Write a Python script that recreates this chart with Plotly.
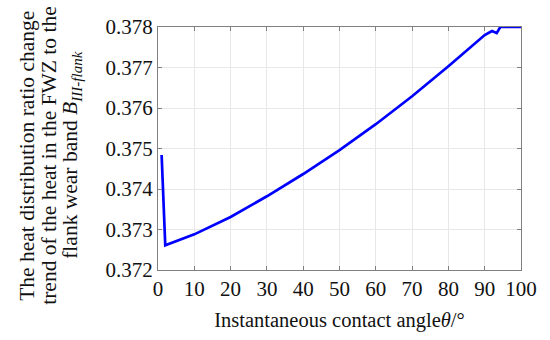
import plotly.graph_objects as go

theta = [1, 2, 10, 20, 30, 40, 50, 60, 70, 80, 90, 92, 93.3, 94.3, 95, 100]
ratio = [0.37484, 0.37261, 0.37288, 0.37331, 0.37382, 0.37437, 0.37496, 0.37560,
         0.37629, 0.37703, 0.37780, 0.37790, 0.37785, 0.37800, 0.37800, 0.37800]

x_ticks = [0, 10, 20, 30, 40, 50, 60, 70, 80, 90, 100]
y_ticks = [0.372, 0.373, 0.374, 0.375, 0.376, 0.377, 0.378]

y_title_lines = ["The heat distribution ratio change",
                 "trend of the heat in the FWZ to the",
                 "flank wear band <i>B</i><sub><i>III-flank</i></sub>"]

font = "Liberation Serif, Times New Roman, serif"

fig = go.Figure()
fig.add_trace(go.Scatter(x=theta, y=ratio, mode="lines",
                         line=dict(color="#0000ff", width=2.7), showlegend=False))

axis_common = dict(showline=True, mirror="ticks", linecolor="#808080", linewidth=1,
                   ticks="inside", ticklen=4, tickcolor="#808080",
                   showgrid=True, gridcolor="#e8e8e8", gridwidth=1, zeroline=False,
                   tickfont=dict(family=font, size=21, color="#111"))

fig.update_xaxes(range=[0, 100], tickvals=x_ticks, **axis_common,
                 title=dict(text="Instantaneous contact angle<i>θ</i>/°",
                            font=dict(family=font, size=20.5, color="#111"), standoff=12))
fig.update_yaxes(range=[0.372, 0.378], tickvals=y_ticks, tickformat=".3f", **axis_common)

for line_text, xs in zip(y_title_lines, [27, 49, 72]):
    fig.add_annotation(
        text=line_text, xref="paper", yref="paper", x=0, xshift=xs - 158, y=0.47,
        textangle=-90, xanchor="center", yanchor="middle", showarrow=False,
        font=dict(family=font, size=21.5, color="#111"))

fig.update_layout(width=550, height=340, margin=dict(l=158, r=29, t=27, b=64),
                  plot_bgcolor="white", paper_bgcolor="white")

fig.write_html("out.html", config={"displayModeBar": False},
               post_script="document.body.style.margin='0';document.body.style.overflow='hidden';")
